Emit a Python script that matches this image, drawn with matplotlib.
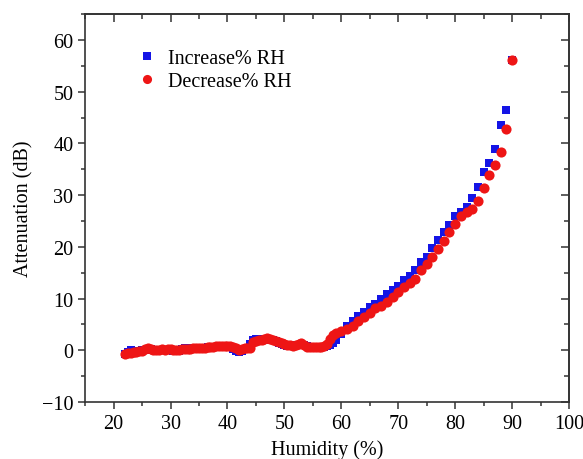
import numpy as np
import matplotlib
matplotlib.use("Agg")
import matplotlib.pyplot as plt
from matplotlib.ticker import MultipleLocator

# Increase % RH (blue squares)
inc_x = [22, 22.5, 23, 23.5, 24, 24.5, 25, 25.5, 26, 26.5, 27, 27.5, 28, 28.5, 29, 29.5,
         30, 30.5, 31, 31.5, 32, 32.5, 33, 33.5, 34, 34.5, 35, 35.5, 36, 36.5, 37, 37.5,
         38, 38.5, 39, 39.5, 40, 40.5, 41, 41.5, 42, 42.5, 43, 43.5, 44, 44.5, 45, 45.5,
         46, 46.5, 47, 47.5, 48, 48.5, 49, 49.5, 50, 50.5, 51, 51.5, 52, 52.5, 53, 53.5,
         54, 54.5, 55, 55.5, 56, 56.5, 57, 57.5, 58, 58.5, 59, 60, 61, 62, 63, 64, 65,
         66, 67, 68, 69, 70, 71, 72, 73, 74, 75, 76, 77, 78, 79, 80, 81, 82, 83, 84, 85,
         86, 87, 88, 89, 90]
inc_y = [-0.7, -0.3, 0.0, -0.1, -0.3, -0.2, 0.0, 0.1, 0.2, 0.2, 0.1, 0.1, 0.0, 0.1, 0.1, 0.0,
         0.0, -0.1, -0.2, -0.1, 0.2, 0.4, 0.5, 0.5, 0.4, 0.4, 0.5, 0.5, 0.5, 0.6, 0.6, 0.7,
         0.7, 0.8, 0.8, 0.7, 0.7, 0.6, 0.3, -0.1, -0.3, -0.1, 0.2, 0.4, 1.2, 2.0, 2.1, 2.1,
         2.0, 2.1, 2.2, 2.0, 1.9, 1.7, 1.5, 1.3, 1.1, 0.9, 0.8, 0.8, 1.0, 1.1, 1.2, 1.0,
         0.8, 0.7, 0.7, 0.7, 0.7, 0.7, 0.7, 0.8, 1.1, 1.5, 1.9, 3.1, 4.7, 5.7, 6.7, 7.4, 8.3,
         9.0, 9.9, 10.8, 11.6, 12.5, 13.5, 14.4, 15.6, 17.0, 18.0, 19.8, 21.4, 22.8, 24.3,
         25.9, 26.8, 27.8, 29.4, 31.6, 34.5, 36.2, 38.9, 43.5, 46.5, 56.2]

# Decrease % RH (red circles)
dec_x = [22, 22.5, 23, 23.5, 24, 24.5, 25, 25.5, 26, 26.5, 27, 27.5, 28, 28.5, 29, 29.5,
         30, 30.5, 31, 31.5, 32, 32.5, 33, 33.5, 34, 34.5, 35, 35.5, 36, 36.5, 37, 37.5,
         38, 38.5, 39, 39.5, 40, 40.5, 41, 41.5, 42, 42.5, 43, 43.5, 44, 44.5, 45, 45.5,
         46, 46.5, 47, 47.5, 48, 48.5, 49, 49.5, 50, 50.5, 51, 51.5, 52, 52.5, 53, 53.5,
         54, 54.5, 55, 55.5, 56, 56.5, 57, 57.5, 58, 58.5, 59, 60, 61, 62, 63, 64, 65,
         66, 67, 68, 69, 70, 71, 72, 73, 74, 75, 76, 77, 78, 79, 80, 81, 82, 83, 84, 85,
         86, 87, 88, 89, 90]
dec_y = [-0.8, -0.6, -0.5, -0.4, -0.3, -0.2, -0.1, 0.2, 0.4, 0.3, 0.1, 0.0, 0.1, 0.2, 0.1, 0.2,
         0.2, 0.1, 0.0, 0.1, 0.2, 0.3, 0.3, 0.3, 0.4, 0.4, 0.4, 0.4, 0.5, 0.6, 0.7, 0.7,
         0.8, 0.8, 0.9, 0.8, 0.9, 0.8, 0.6, 0.4, 0.1, 0.3, 0.5, 0.4, 0.5, 1.6, 1.8, 1.9,
         2.0, 2.2, 2.3, 2.2, 2.0, 1.8, 1.6, 1.4, 1.2, 1.1, 1.0, 0.9, 1.0, 1.2, 1.4, 1.1,
         0.7, 0.6, 0.6, 0.7, 0.6, 0.7, 0.9, 1.3, 2.2, 2.9, 3.4, 3.8, 4.1, 4.7, 5.7, 6.4, 7.3,
         8.1, 8.6, 9.3, 10.3, 11.2, 12.2, 13.1, 13.8, 15.6, 16.7, 18.0, 19.6, 21.2, 22.9,
         24.4, 25.9, 26.7, 27.3, 28.9, 31.3, 33.9, 35.9, 38.4, 42.8, 56.2]

plt.rcParams["font.family"] = ["Liberation Serif", "DejaVu Serif"]
plt.rcParams["font.size"] = 14.5

fig = plt.figure(figsize=(5.83, 4.60), dpi=100)
ax = fig.add_axes([0.146, 0.124, 0.830, 0.843])

ax.plot(inc_x, inc_y, "s", color="#1414e6", markersize=6.3, markeredgewidth=0,
        label="Increase% RH")
ax.plot(dec_x, dec_y, "o", color="#ee1515", markersize=7.3, markeredgewidth=0,
        label="Decrease% RH")

ax.set_xlim(15, 100)
ax.set_ylim(-10, 65)
ax.xaxis.set_major_locator(MultipleLocator(10))
ax.xaxis.set_minor_locator(MultipleLocator(5))
ax.yaxis.set_major_locator(MultipleLocator(10))
ax.yaxis.set_minor_locator(MultipleLocator(5))
ax.set_xticks(np.arange(20, 101, 10))
ax.tick_params(which="major", direction="out", length=5, width=1.1, color="#333333", labelsize=14.5)
ax.tick_params(which="minor", direction="out", length=3, width=1.1, color="#333333")
for s in ax.spines.values():
    s.set_linewidth(1.2)
    s.set_color("#333333")

# inward ticks on top and right
top = ax.secondary_xaxis("top")
top.xaxis.set_major_locator(MultipleLocator(10))
top.xaxis.set_minor_locator(MultipleLocator(5))
top.tick_params(which="major", direction="in", length=6, width=1.1, color="#333333", labeltop=False)
top.tick_params(which="minor", direction="in", length=3.5, width=1.1, color="#333333")
top.spines["top"].set_linewidth(1.2)
top.spines["top"].set_color("#333333")
right = ax.secondary_yaxis("right")
right.yaxis.set_major_locator(MultipleLocator(10))
right.yaxis.set_minor_locator(MultipleLocator(5))
right.tick_params(which="major", direction="in", length=6, width=1.1, color="#333333", labelright=False)
right.tick_params(which="minor", direction="in", length=3.5, width=1.1, color="#333333")
right.spines["right"].set_linewidth(1.2)
right.spines["right"].set_color("#333333")

ax.set_xlabel("Humidity (%)", fontsize=14.5, labelpad=5)
ax.set_ylabel("Attenuation (dB)", fontsize=14.5, labelpad=6)

ax.legend(loc="upper left", bbox_to_anchor=(0.083, 0.93), frameon=False, fontsize=14.5,
          handletextpad=0.3, markerscale=0.9, borderaxespad=0, labelspacing=0.15,
          handlelength=1.4)

fig.savefig("out.png", dpi=100)
